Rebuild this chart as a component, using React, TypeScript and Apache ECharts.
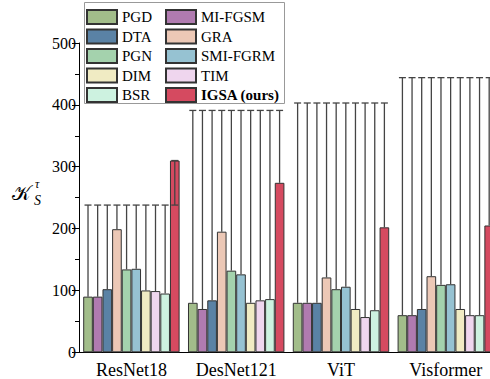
import React, { useEffect, useRef } from "react";
import * as echarts from "echarts";

const categories = ["ResNet18", "DesNet121", "ViT", "Visformer"];
const seriesNames = ["PGD", "MI-FGSM", "DTA", "GRA", "PGN", "SMI-FGRM", "DIM", "TIM", "BSR", "IGSA (ours)"];
const pgd = [90, 80, 80, 60];
const miFgsm = [90, 70, 80, 60];
const dta = [102, 84, 80, 70];
const gra = [199, 195, 121, 123];
const pgn = [134, 132, 102, 109];
const smiFgrm = [135, 126, 106, 110];
const dim = [100, 80, 70, 70];
const tim = [99, 84, 57, 60];
const bsr = [95, 86, 68, 60];
const igsa = [310, 274, 202, 205];
const whiskerTop = [238, 391, 403, 444];
const yTicks = [0, 100, 200, 300, 400, 500];

const seriesValues = [pgd, miFgsm, dta, gra, pgn, smiFgrm, dim, tim, bsr, igsa];
const colors = ["#a2bd8a", "#b07bb0", "#5a82a5", "#ecc8b6", "#a4d2ad", "#96c2d2", "#f0ebc3", "#efd6ee", "#cdf2e0", "#d54a60"];
const leftLegend = ["PGD", "DTA", "PGN", "DIM", "BSR"];
const rightLegend = ["MI-FGSM", "GRA", "SMI-FGRM", "TIM", "IGSA (ours)"];

const FONT = "Liberation Serif";
const GAP = 0.08;

export default function App() {
  const ref = useRef<HTMLDivElement>(null);
  useEffect(() => {
    const chart = echarts.init(ref.current!, null, { renderer: "svg" });
    const whiskerData: number[][] = [];
    seriesValues.forEach((vals, si) => {
      vals.forEach((v, ci) => whiskerData.push([ci, si, v, whiskerTop[ci]]));
    });
    const legendCommon = {
      orient: "vertical",
      icon: "rect",
      itemWidth: 30,
      itemHeight: 14,
      itemGap: 3.5,
      padding: 0,
      top: 9,
      z: 6,
      textStyle: {
        fontFamily: FONT,
        fontSize: 15,
        color: "#000",
        rich: {
          n: { fontFamily: FONT, fontSize: 15, color: "#000" },
          b: { fontFamily: FONT, fontSize: 15, fontWeight: "bold", color: "#000" },
        },
      },
      formatter: (n: string) => (n === "IGSA (ours)" ? "{b|" + n + "}" : "{n|" + n + "}"),
    };
    chart.setOption({
      animation: false,
      grid: { left: 79, width: 419.2, top: 43, bottom: 26.7, outerBoundsMode: "none", containLabel: false },
      legend: [
        { ...legendCommon, left: 86, data: leftLegend },
        { ...legendCommon, left: 165, data: rightLegend },
      ],
      graphic: [
        {
          type: "polyline",
          z: 1,
          silent: true,
          shape: { points: [[84.5, 2.5], [284.5, 2.5], [284.5, 103.5], [84.5, 103.5], [84.5, 2.5]] },
          style: { fill: null, stroke: "#999999", lineWidth: 1 },
        },
        {
          type: "text",
          x: 12,
          y: 183,
          style: { text: "𝒦", font: "20px 'DejaVu Serif'", fill: "#000" },
        },
        {
          type: "text",
          x: 35,
          y: 179,
          style: { text: "τ", fontStyle: "italic", fontSize: 12, lineHeight: 9, fontFamily: FONT, fill: "#000" },
        },
        {
          type: "text",
          x: 34,
          y: 193,
          style: { text: "S", fontStyle: "italic", fontSize: 14, lineHeight: 14, fontFamily: FONT, fill: "#000" },
        },
      ],
      xAxis: [
        {
          type: "category",
          data: categories,
          axisLine: { lineStyle: { color: "#000", width: 1 } },
          axisTick: { alignWithLabel: true, length: 5, lineStyle: { color: "#000" } },
          axisLabel: { fontFamily: FONT, fontSize: 18, color: "#000", margin: 9, interval: 0 },
        },
        {
          type: "category",
          data: categories,
          position: "bottom",
          axisLine: { show: false },
          axisTick: { length: 2, lineStyle: { color: "#000" } },
          axisLabel: { show: false },
        },
      ],
      yAxis: {
        type: "value",
        min: 0,
        max: 500,
        interval: 100,
        axisLine: { show: true, lineStyle: { color: "#000", width: 1 } },
        axisTick: { show: true, length: 7, lineStyle: { color: "#000" } },
        minorTick: { show: true, splitNumber: 2, length: 4, lineStyle: { color: "#000" } },
        splitLine: { show: false },
        axisLabel: {
          fontFamily: FONT,
          fontSize: 16,
          color: "#000",
          margin: 3,
          formatter: (v: number) => (yTicks.includes(v) ? String(v) : ""),
        },
      },
      series: [
        ...seriesNames.map((name, si) => ({
          type: "bar",
          name,
          data: seriesValues[si],
          barGap: "0%",
          barCategoryGap: GAP * 100 + "%",
          itemStyle: { color: colors[si], borderColor: "#333", borderWidth: 1 },
          z: 2,
        })),
        {
          type: "custom",
          name: "whiskers",
          z: 2.5,
          encode: { x: 0, y: 2 },
          data: whiskerData,
          clip: false,
          renderItem: (params: any, api: any) => {
            const ci = api.value(0);
            const si = api.value(1);
            const v = api.value(2);
            const t = api.value(3);
            const c = api.coord([ci, v]);
            const band = api.size([1, 0])[0];
            const gw = band * (1 - GAP);
            const w = gw / 10;
            const x = c[0] - gw / 2 + w * (si + 0.5);
            const yT = api.coord([ci, t])[1];
            const st = { stroke: "#444", lineWidth: 1.3 };
            const children: any[] = [
              { type: "line", shape: { x1: x, y1: c[1], x2: x, y2: yT }, style: st },
              { type: "line", shape: { x1: x - 3.5, y1: yT, x2: x + 3.5, y2: yT }, style: st },
            ];
            if (v > t) {
              children.push({ type: "line", shape: { x1: x - 3.5, y1: c[1], x2: x + 3.5, y2: c[1] }, style: st });
            }
            return { type: "group", children };
          },
        },
      ],
    });
    return () => chart.dispose();
  }, []);
  return <div ref={ref} style={{ width: 490, height: 379, position: "absolute", left: 0, top: 0 }} />;
}
